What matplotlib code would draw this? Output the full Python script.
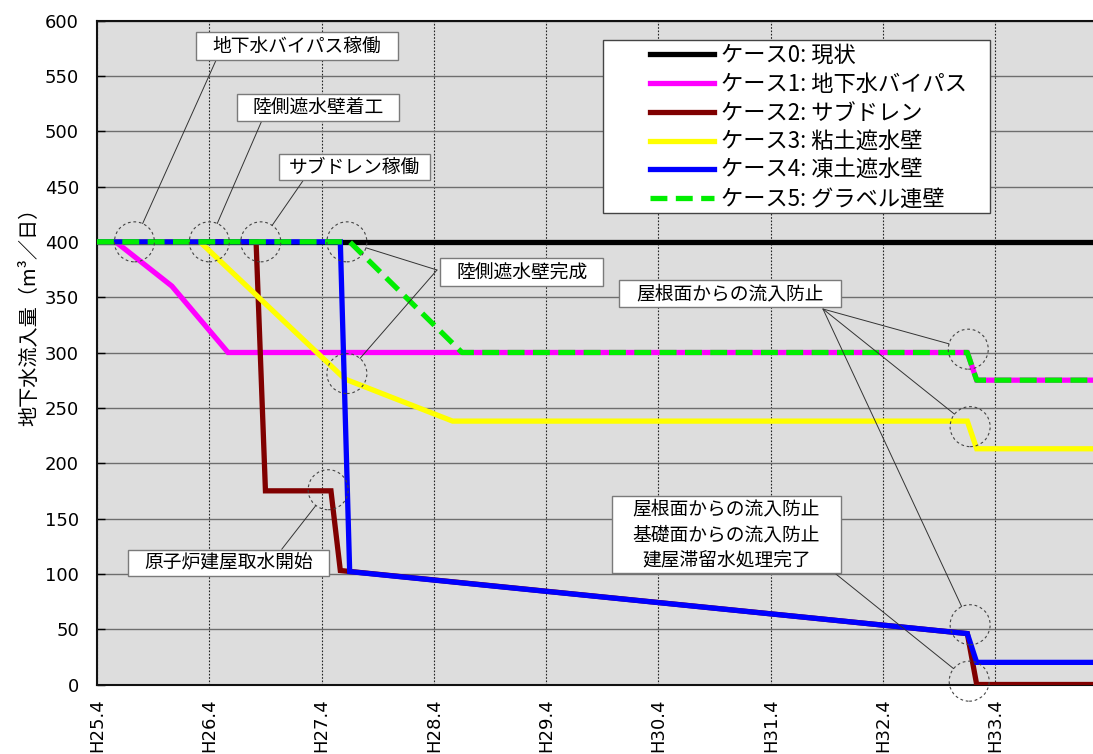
import matplotlib
matplotlib.use('Agg')
import matplotlib.pyplot as plt
import matplotlib.transforms as mtransforms
from matplotlib.patches import Rectangle, Circle
from matplotlib.font_manager import FontProperties

# ---------------- data (months since H25.4) ----------------
tick_months = [0, 12, 24, 36, 48, 60, 72, 84, 96]
tick_labels = ["H25.4", "H26.4", "H27.4", "H28.4", "H29.4", "H30.4", "H31.4", "H32.4", "H33.4"]

case_names = ["ケース0: 現状", "ケース1: 地下水バイパス", "ケース2: サブドレン",
              "ケース3: 粘土遮水壁", "ケース4: 凍土遮水壁", "ケース5: グラベル連壁"]

c0_x = [0, 108]
c0_y = [400, 400]
c1_x = [0, 2, 8, 14, 93, 94, 108]
c1_y = [400, 400, 360, 300, 300, 275, 275]
c2_x = [0, 17, 18, 25, 26, 93, 94, 108]
c2_y = [400, 400, 175, 175, 103, 46, 0, 0]
c3_x = [0, 11, 26.5, 38, 93, 94, 108]
c3_y = [400, 400, 276, 238, 238, 213, 213]
c4_x = [0, 26, 27, 93, 94, 108]
c4_y = [400, 400, 102, 46, 20, 20]
c5_x = [0, 27, 39, 93, 94, 108]
c5_y = [400, 400, 300, 300, 275, 275]

# highlighted events (circle centres, data coords)
circle_x = [4, 12, 17.5, 26.7, 26.7, 24.7, 93.1, 93.3, 93.3, 93.2]
circle_y = [400, 400, 400, 400, 281, 176, 303, 233, 54, 3]

# ---------------- figure ----------------
W, H = 1093, 754
fig = plt.figure(figsize=(W / 100, H / 100), dpi=100)
ax = fig.add_axes([97 / W, 1 - 684.5 / H, (W - 97) / W, (684.5 - 20.5) / H])
ax.set_facecolor("#dddddd")
ax.set_xlim(0, 106.43)
ax.set_ylim(0, 600)

jp = ["Noto Sans CJK JP", "DejaVu Sans"]

# grid / ticks
ax.set_yticks(range(0, 601, 50))
ax.set_xticks(tick_months)
ax.set_xticklabels(tick_labels, rotation=90, fontsize=13, family="DejaVu Sans",
                   va="top", ha="center")
ax.grid(axis="y", color="#6e6e6e", lw=1.0, ls="-", zorder=0)
ax.grid(axis="x", color="#222222", lw=0.8, ls=(0, (1.5, 1.5)), zorder=0)
ax.set_axisbelow(True)
ax.tick_params(axis="y", direction="in", length=6, width=1, pad=13, labelsize=13)
ax.tick_params(axis="x", direction="in", length=0, pad=10, labelsize=13)
for s in ["left", "bottom", "top"]:
    ax.spines[s].set_linewidth(1.5)
    ax.spines[s].set_color("#111111")
ax.spines["right"].set_visible(False)

# series
lw = 3.8
series = [
    (c0_x, c0_y, "#000000", "-"),
    (c1_x, c1_y, "#ff00ff", "-"),
    (c2_x, c2_y, "#800000", "-"),
    (c3_x, c3_y, "#ffff00", "-"),
    (c4_x, c4_y, "#0000ff", "-"),
    (c5_x, c5_y, "#00ee00", (0, (3.2, 1.6))),
]
handles = []
for i, (xs, ys, col, ls) in enumerate(series):
    ln, = ax.plot(xs, ys, color=col, lw=lw, ls=ls, solid_joinstyle="miter",
                  dash_capstyle="butt", zorder=3 + i * 0.1, label=case_names[i])
    handles.append(ln)

# dashed circles (radius given in inches, centred on data points)
for cx, cy in zip(circle_x, circle_y):
    tr = fig.dpi_scale_trans + mtransforms.ScaledTranslation(cx, cy, ax.transData)
    ax.add_patch(Circle((0, 0), 0.2, transform=tr, fill=False, ec="#444444",
                        lw=0.8, ls=(0, (2.5, 2.5)), clip_on=False, zorder=4))

# pixel transform (origin top-left)
pix = mtransforms.Affine2D().scale(1, -1).translate(0, H)

# annotation boxes: (text, x0, y0, x1, y1) in pixels
boxes = [
    ("地下水バイパス稼働", 195.7, 31.7, 398, 60.3),
    ("陸側遮水壁着工", 236.7, 94.3, 399, 121),
    ("サブドレン稼働", 279.3, 153.7, 430, 180.3),
    ("陸側遮水壁完成", 440, 258.3, 603.3, 285.7),
    ("屋根面からの流入防止", 619.3, 280, 840.7, 306.7),
    ("屋根面からの流入防止\n基礎面からの流入防止\n建屋滞留水処理完了", 612.3, 495.7, 840.7, 573.3),
    ("原子炉建屋取水開始", 128.3, 550, 329.3, 576),
]
for txt, x0, y0, x1, y1 in boxes:
    ax.add_patch(Rectangle((x0, y0), x1 - x0, y1 - y0, transform=pix, fc="white",
                           ec="#7a7a7a", lw=1.0, clip_on=False, zorder=7))
    ax.text((x0 + x1) / 2, (y0 + y1) / 2, txt, transform=pix, ha="center", va="center",
            family=jp, fontsize=13.5, linespacing=1.3, zorder=8)

# leader lines: start point (pixels) -> circle index
leaders = [
    ((216, 60.3), 0),
    ((261.7, 121), 1),
    ((303.3, 180.3), 2),
    ((437, 270), 3),
    ((437, 270), 4),
    ((823, 309), 6),
    ((823, 309), 7),
    ((823, 309), 8),
    ((835, 573.3), 9),
    ((281.7, 549.3), 5),
]
for (sx, sy), ci in leaders:
    ax.annotate("", xy=(circle_x[ci], circle_y[ci]), xycoords="data",
                xytext=(sx, H - sy), textcoords="figure pixels",
                arrowprops=dict(arrowstyle="-", color="#333333", lw=0.7,
                                shrinkA=0, shrinkB=14.4),
                annotation_clip=False, zorder=6)

# legend
ax.add_patch(Rectangle((603, 40), 387, 173, transform=pix, fc="white", ec="#444444",
                       lw=1.0, clip_on=False, zorder=9))
leg = ax.legend(handles=handles, loc="upper left", frameon=False, borderaxespad=0,
                borderpad=0, handlelength=2.9, handletextpad=0.3, labelspacing=0.26,
                prop=FontProperties(family=jp, size=16))
leg.set_zorder(10)
leg.set_bbox_to_anchor((650, H - 44), transform=mtransforms.IdentityTransform())

# y label
fig.text(30 / W, 1 - 312 / H, "地下水流入量（m³／日）", rotation=90, ha="center",
         va="center", family=jp, fontsize=14.5)

fig.savefig("out.png", dpi=100)
